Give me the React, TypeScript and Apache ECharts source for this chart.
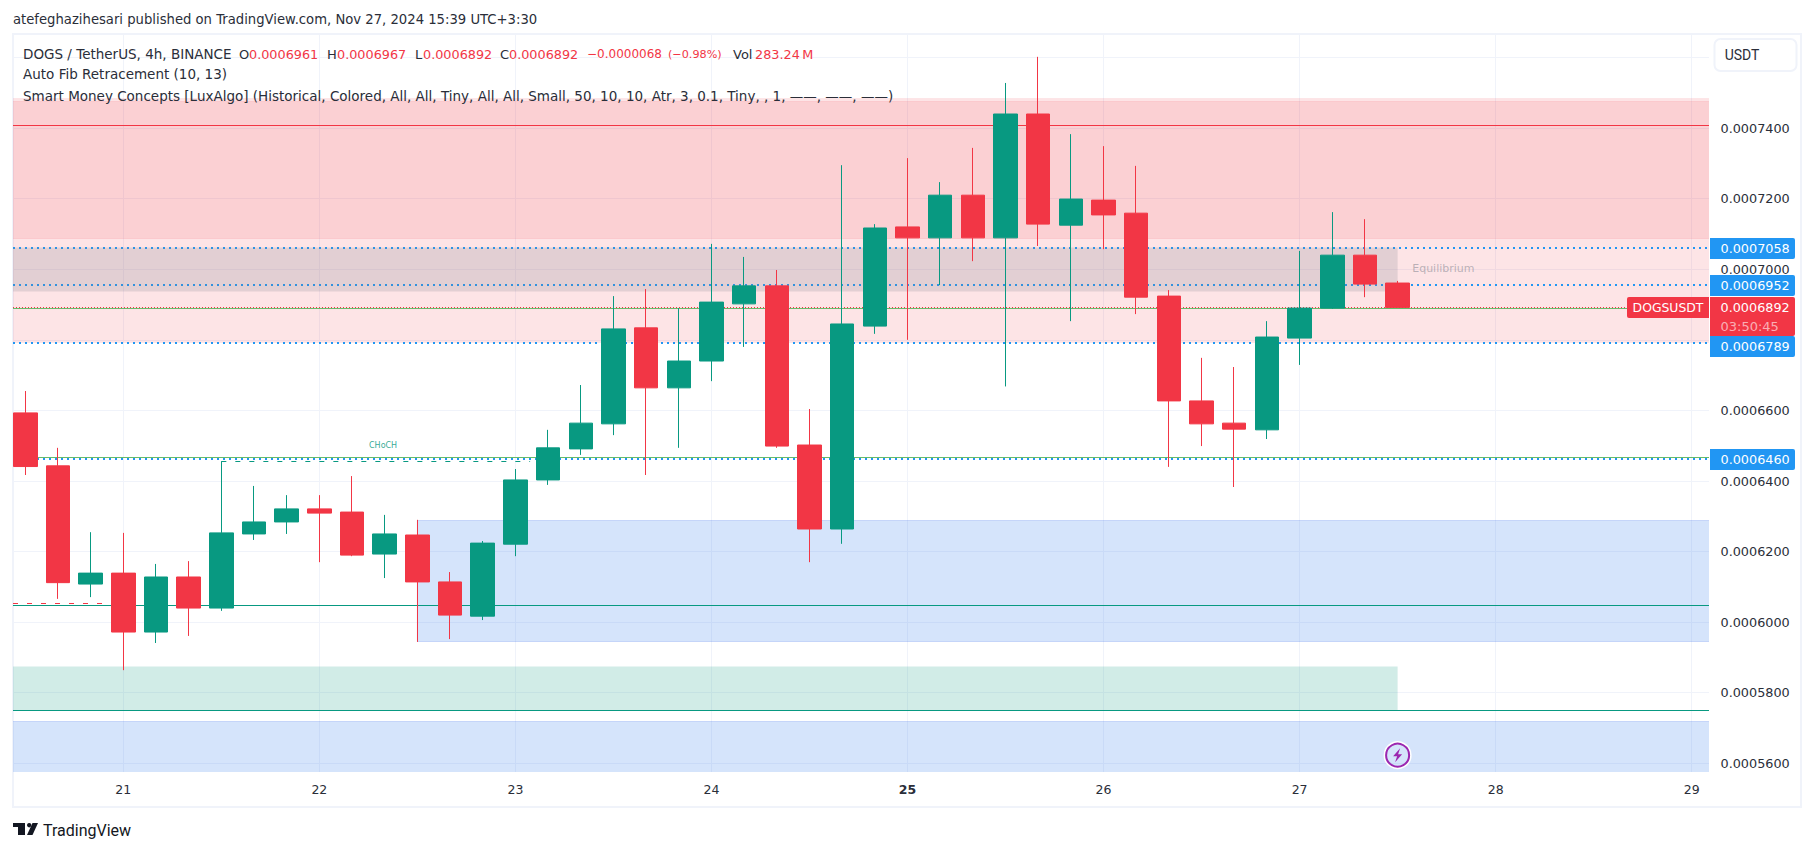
import React, { useEffect, useRef } from "react";
import * as echarts from "echarts";

// values in 1e-7 USDT units
const opens = [6593,6443,6108,6139,5972,6128,6040,6250,6284,6321,6312,6193,6247,6114,6017,6221,6403,6491,6562,6834,6664,6740,6902,6953,6502,6264,6839,7120,7089,7210,7089,7440,7125,7196,7159,6924,6627,6564,6545,6805,6890,7040,6961];
const highs = [6655,6494,6255,6253,6165,6173,6456,6386,6360,6360,6414,6304,6290,6142,6230,6434,6545,6672,6924,6944,6890,7072,7035,6998,6604,7295,7128,7315,7247,7344,7528,7602,7383,7349,7293,6941,6749,6723,6853,7052,7162,7142,6967];
const lows = [6417,6066,6071,5864,5941,5961,6032,6233,6250,6170,6187,6125,5944,5952,6006,6187,6389,6474,6530,6417,6494,6683,6780,6494,6170,6222,6817,6800,6955,7023,6668,7066,6853,7057,6873,6440,6499,6383,6519,6729,6888,6921,6892];
const closes = [6441,6112,6139,5972,6128,6040,6253,6284,6321,6309,6190,6250,6114,6020,6224,6403,6494,6564,6831,6664,6740,6907,6953,6499,6264,6845,7117,7089,7210,7089,7440,7128,7199,7154,6921,6627,6562,6547,6808,6890,7040,6958,6892];

const dayLabels = ["21","22","23","24","25","26","27","28","29"];
const dayIndex = [3,9,15,21,27,33,39,45,51];
const boldDay = "25";
const gridPrices = [5600,5800,6000,6200,6400,6600,6800,7000,7200,7400,7600];
const labelPrices = [5600,5800,6000,6200,6400,6600,7000,7200,7400];

const X_MIN = -0.376;
const X_MAX = 51.53;
const Y_MIN = 5575.4;
const Y_MAX = 7663.9;
const X_LEFT_OUT = -1;
const X_RIGHT_OUT = 53;

// [from candle, to candle, price a, price b]
const zoneValues = [
  [X_LEFT_OUT, X_RIGHT_OUT, 7484.5, 6793],
  [X_LEFT_OUT, X_RIGHT_OUT, 7478, 7089.5],
  [12, X_RIGHT_OUT, 6288.7, 5944.7],
  [X_LEFT_OUT, 42, 5876, 5750],
  [X_LEFT_OUT, X_RIGHT_OUT, 5719, 5500],
];
const zoneKinds = ["premium","premiumInner","demand","discount","demand"];
const equilibriumZone = [[X_LEFT_OUT, 42, 7062, 6937]];

// [from candle, to candle, price]
const lineValues = [
  [X_MIN, X_MAX, 7408],
  [X_MIN, X_MAX, 6889.4],
  [X_MIN, X_MAX, 6467.2],
  [X_MIN, X_MAX, 6048],
  [X_MIN, X_MAX, 5750],
  [X_MIN, 3, 6053.5],
  [6, 15.45, 6455.9],
  [X_MIN, 49, 6892],
  [X_MIN, X_MAX, 7058],
  [X_MIN, X_MAX, 6952],
  [X_MIN, X_MAX, 6789],
  [X_MIN, X_MAX, 6460],
];
const lineKinds = ["red","lime","lime","teal","teal","redDash","tealDash","redDot","blueDot","blueDot","blueDot","blueDot"];

const blueTagPrices = [7058, 6952, 6789, 6460];
const lastPrice = 6892;
const symbolName = "DOGSUSDT";
const countdown = "03:50:45";

const chartNotes = [
  { candle: 10.95, price: 6502, text: "CHoCH", kind: "choch" },
  { candle: 43.4, price: 7001, text: "Equilibrium", kind: "eq" },
];
const boltCandle = 42;
const boltPrice = 5623;

const publishLine = "atefeghazihesari published on TradingView.com, Nov 27, 2024 15:39 UTC+3:30";
const legendRow2 = "Auto Fib Retracement (10, 13)";
const legendRow3 = "Smart Money Concepts [LuxAlgo] (Historical, Colored, All, All, Tiny, All, All, Small, 50, 10, 10, Atr, 3, 0.1, Tiny, , 1, \u2014\u2014, \u2014\u2014, \u2014\u2014)";
const legendRow1 = [
  ["DOGS / TetherUS, 4h, BINANCE", 23, "d", 13.5],
  ["O", 239, "d", 13],
  ["0.0006961", 249, "r", 12.8],
  ["H", 327, "d", 13],
  ["0.0006967", 337, "r", 12.8],
  ["L", 415, "d", 13],
  ["0.0006892", 423, "r", 12.8],
  ["C", 500, "d", 13],
  ["0.0006892", 509, "r", 12.8],
  ["\u22120.0000068", 587, "r", 12],
  ["(\u22120.98%)", 668, "r", 11.2],
  ["Vol", 733, "d", 13],
  ["283.24\u2009M", 755, "r", 12.8],
];

const UP = "#089981";
const DOWN = "#f23645";
const FONT = '"DejaVu Sans", sans-serif';
const TEXT = "#2a2e39";

const zoneStyle: any = {
  premium: { fill: "rgba(240,54,69,0.135)", stroke: "rgba(242,54,69,0.06)", lineWidth: 1 },
  premiumInner: { fill: "rgba(238,54,69,0.115)", stroke: "rgba(242,54,69,0.1)", lineWidth: 1 },
  equilibrium: { fill: "rgba(120,123,134,0.2)" },
  demand: { fill: "rgba(33,110,235,0.19)", stroke: "rgba(33,90,235,0.18)", lineWidth: 1 },
  discount: { fill: "rgba(8,153,129,0.19)" },
};
const lineStyle: any = {
  red: { stroke: "#f23645", lineWidth: 1 },
  lime: { stroke: "#66bb6a", lineWidth: 1 },
  teal: { stroke: "#089981", lineWidth: 1 },
  redDash: { stroke: "#f23645", lineWidth: 1, lineDash: [5, 9] },
  tealDash: { stroke: "#089981", lineWidth: 1, lineDash: [5, 9] },
  redDot: { stroke: "#f23645", lineWidth: 1, lineDash: [1, 2] },
  blueDot: { stroke: "#2196f3", lineWidth: 2, lineDash: [2, 4] },
};

const price = (u: number) => u / 1e7;

function crisp(y: number, w: number) {
  return w % 2 === 0 ? Math.round(y - 0.8) : Math.floor(y) + 0.5;
}

function zoneRect(api: any, style: any) {
  const a = api.coord([api.value(0), api.value(1)]);
  const b = api.coord([api.value(2), api.value(3)]);
  return {
    type: "rect",
    shape: { x: a[0], y: Math.round(a[1]) + 0.5, width: b[0] - a[0], height: Math.round(b[1] - a[1]) },
    style,
  };
}

function buildOption() {
  const candles = opens.map((o, i) => [i, price(o), price(closes[i]), price(lows[i]), price(highs[i])]);

  const graphics: any[] = [
    { type: "rect", z: 0, shape: { x: 13, y: 34, width: 1788, height: 773 }, style: { fill: "none", stroke: "#f0f3fa", lineWidth: 2 } },
    { type: "rect", z: 0, shape: { x: 1714.5, y: 39, width: 82, height: 32, r: 6 }, style: { fill: "#fff", stroke: "#f0f3fa", lineWidth: 2 } },
    { type: "text", z: 6, x: 1742, y: 54.5, style: { text: "USDT", fill: TEXT, fontSize: 14, fontFamily: "Roboto", align: "center", verticalAlign: "middle" } },
    { type: "text", z: 6, x: 13, y: 19, style: { text: publishLine, fill: TEXT, fontSize: 13.2, fontFamily: FONT, verticalAlign: "middle" } },
    { type: "text", z: 6, x: 23, y: 74, style: { text: legendRow2, fill: TEXT, fontSize: 13.5, fontFamily: FONT, verticalAlign: "middle" } },
    { type: "text", z: 6, x: 23, y: 96, style: { text: legendRow3, fill: TEXT, fontSize: 13.5, fontFamily: FONT, verticalAlign: "middle" } },
    { type: "polygon", shape: { points: [[13,823],[25,823],[25,835],[18,835],[18,827],[13,827]] }, style: { fill: "#131722" } },
    { type: "circle", shape: { cx: 29.2, cy: 825.2, r: 2.2 }, style: { fill: "#131722" } },
    { type: "polygon", shape: { points: [[32.5,823],[38,823],[32.5,835],[27,835]] }, style: { fill: "#131722" } },
    { type: "text", x: 43, y: 830, style: { text: "TradingView", fill: "#131722", fontSize: 16, fontFamily: "Roboto", verticalAlign: "middle" } },
  ];
  legendRow1.forEach(([text, x, c, size]: any) => {
    graphics.push({ type: "text", z: 6, x, y: 54, style: { text, fill: c === "r" ? DOWN : TEXT, fontSize: size, fontFamily: FONT, verticalAlign: "middle" } });
  });

  const series: any[] = [
    {
      type: "custom", name: "zones", z: 1, clip: true, silent: true,
      data: zoneValues.map((v) => [v[0], price(v[2]), v[1], price(v[3])]),
      encode: { x: [0, 2], y: [1, 3] },
      renderItem: (p: any, api: any) => zoneRect(api, zoneStyle[zoneKinds[p.dataIndex]]),
    },
    {
      type: "custom", name: "levels", z: 2, clip: true, silent: true,
      data: lineValues.map((v) => [v[0], price(v[2]), v[1]]),
      encode: { x: [0, 2], y: 1 },
      renderItem: (p: any, api: any) => {
        const a = api.coord([api.value(0), api.value(1)]);
        const b = api.coord([api.value(2), api.value(1)]);
        const st = lineStyle[lineKinds[p.dataIndex]];
        const y = crisp(a[1], st.lineWidth);
        return { type: "line", shape: { x1: a[0], y1: y, x2: b[0], y2: y }, style: st };
      },
    },
    {
      type: "custom", name: "equilibrium", z: 2.5, clip: true, silent: true,
      data: equilibriumZone.map((v) => [v[0], price(v[2]), v[1], price(v[3])]),
      encode: { x: [0, 2], y: [1, 3] },
      renderItem: (_p: any, api: any) => zoneRect(api, zoneStyle.equilibrium),
    },
    {
      type: "custom", name: "notes", z: 2, clip: false, silent: true,
      data: chartNotes.map((n) => [n.candle, price(n.price)]),
      encode: { x: 0, y: 1 },
      renderItem: (p: any, api: any) => {
        const a = api.coord([api.value(0), api.value(1)]);
        const n = chartNotes[p.dataIndex];
        const choch = n.kind === "choch";
        return {
          type: "text", x: a[0], y: a[1],
          style: {
            text: n.text, align: "center", verticalAlign: "middle", fontFamily: FONT,
            fontSize: choch ? 8 : 11,
            fill: choch ? "rgba(8,153,129,0.85)" : "rgba(120,123,134,0.5)",
          },
        };
      },
    },
    {
      type: "candlestick", name: "DOGSUSDT", z: 3, barWidth: 24, silent: true,
      data: candles,
      itemStyle: { color: UP, color0: DOWN, borderColor: UP, borderColor0: DOWN, borderWidth: 1 },
    },
    {
      type: "custom", name: "bolt", z: 4, clip: false, silent: true,
      data: [[boltCandle, price(boltPrice)]],
      encode: { x: 0, y: 1 },
      renderItem: (p: any, api: any) => {
        const a = api.coord([api.value(0), api.value(1)]);
        const cx = a[0], cy = a[1];
        const bolt = [[2.5,-7],[-4.5,1],[-0.5,1],[-2.5,7],[4.5,-1],[0.5,-1]].map((q) => [cx + q[0], cy + q[1]]);
        return {
          type: "group",
          children: [
            { type: "circle", shape: { cx, cy, r: 13 }, style: { fill: "none", stroke: "#fff", lineWidth: 2 } },
            { type: "circle", shape: { cx, cy, r: 11.5 }, style: { fill: "none", stroke: "#9c27b0", lineWidth: 2 } },
            { type: "polygon", shape: { points: bolt }, style: { fill: "#9c27b0" } },
          ],
        };
      },
    },
    {
      type: "custom", name: "blueTags", z: 5, clip: false, silent: true,
      data: blueTagPrices.map((v) => [X_MAX, price(v)]),
      encode: { x: 0, y: 1 },
      renderItem: (p: any, api: any) => {
        const a = api.coord([api.value(0), api.value(1)]);
        const cy = Math.floor(a[1] - 0.3) + (blueTagPrices[p.dataIndex] === 6789 ? 3 : 0);
        return {
          type: "group",
          children: [
            { type: "rect", shape: { x: 1710, y: cy - 10, width: 85, height: 21, r: [0, 2, 2, 0] }, style: { fill: "#2196f3" } },
            { type: "text", x: 1720.5, y: cy + 0.5, style: { text: price(blueTagPrices[p.dataIndex]).toFixed(7), fill: "#fff", fontSize: 12.8, fontFamily: FONT, verticalAlign: "middle" } },
          ],
        };
      },
    },
    {
      type: "custom", name: "lastTag", z: 6, clip: false, silent: true,
      data: [[X_MAX, price(lastPrice)]],
      encode: { x: 0, y: 1 },
      renderItem: (p: any, api: any) => {
        const a = api.coord([api.value(0), api.value(1)]);
        const cy = Math.round(a[1]);
        return {
          type: "group",
          children: [
            { type: "rect", shape: { x: 1710, y: cy - 10, width: 85, height: 39, r: [0, 2, 2, 0] }, style: { fill: DOWN } },
            { type: "rect", shape: { x: 1627, y: cy - 10, width: 82, height: 21, r: [2, 0, 0, 2] }, style: { fill: DOWN } },
            { type: "text", x: 1668, y: cy + 0.5, style: { text: symbolName, fill: "#fff", fontSize: 12.4, fontFamily: FONT, align: "center", verticalAlign: "middle" } },
            { type: "text", x: 1720.5, y: cy + 0.5, style: { text: price(lastPrice).toFixed(7), fill: "#fff", fontSize: 12.8, fontFamily: FONT, verticalAlign: "middle" } },
            { type: "text", x: 1720.5, y: cy + 19, style: { text: countdown, fill: "rgba(255,255,255,0.6)", fontSize: 13, fontFamily: FONT, verticalAlign: "middle" } },
          ],
        };
      },
    },
  ];

  return {
    animation: false,
    backgroundColor: "#ffffff",
    textStyle: { fontFamily: FONT },
    grid: { left: 13, top: 35, right: 105, bottom: 79, containLabel: false },
    graphic: { elements: graphics },
    xAxis: {
      type: "value", min: X_MIN, max: X_MAX, scale: true,
      axisLine: { show: false },
      axisTick: { show: false, customValues: dayIndex },
      splitLine: { show: true, lineStyle: { color: "#f0f3fa", width: 1 } },
      axisLabel: {
        customValues: dayIndex, margin: 11, color: TEXT, fontSize: 12.5, fontFamily: FONT,
        hideOverlap: false, showMinLabel: true, showMaxLabel: true,
        formatter: (v: number) => {
          const d = dayLabels[dayIndex.indexOf(Math.round(v))] ?? "";
          return d === boldDay ? `{b|${d}}` : d;
        },
        rich: { b: { fontWeight: "bold", fontSize: 12.5, fontFamily: FONT, color: TEXT } },
      },
    },
    yAxis: {
      type: "value", position: "right", min: price(Y_MIN), max: price(Y_MAX), scale: true,
      axisLine: { show: false },
      axisTick: { show: false, customValues: gridPrices.map(price) },
      splitLine: { show: true, lineStyle: { color: "#f0f3fa", width: 1 } },
      axisLabel: {
        customValues: labelPrices.map(price), margin: 11.5, color: TEXT, fontSize: 12.8, fontFamily: FONT,
        hideOverlap: false, padding: [0, 0, 2, 0],
        formatter: (v: number) => v.toFixed(7),
      },
    },
    series,
  };
}

export default function App() {
  const ref = useRef<HTMLDivElement>(null);
  useEffect(() => {
    if (!ref.current) return;
    const chart = echarts.init(ref.current, undefined, { renderer: "svg" });
    chart.setOption(buildOption() as any);
    return () => chart.dispose();
  }, []);
  return (
    <>
      <style>{"html,body{margin:0;padding:0;overflow:hidden;background:#fff}"}</style>
      <div ref={ref} style={{ width: 1814, height: 851 }} />
    </>
  );
}
